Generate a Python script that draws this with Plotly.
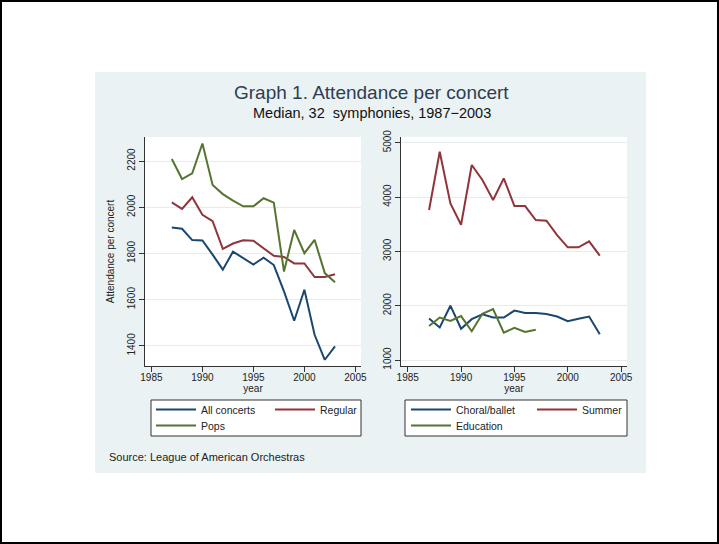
import plotly.graph_objects as go

# ---------------- data ----------------
years = list(range(1987, 2004))
all_concerts = [1912, 1907, 1858, 1856, 1795, 1730, 1808, 1780, 1752, 1782, 1750, 1636, 1509, 1643, 1448, 1340, 1398]
regular = [2021, 1993, 2043, 1967, 1940, 1820, 1843, 1857, 1855, 1822, 1790, 1785, 1757, 1757, 1698, 1698, 1710]
pops = [2209, 2122, 2147, 2276, 2096, 2057, 2029, 2004, 2004, 2039, 2020, 1722, 1902, 1801, 1859, 1715, 1675]

choral_ballet = [1764, 1600, 2000, 1576, 1752, 1842, 1782, 1782, 1909, 1867, 1867, 1848, 1800, 1715, 1758, 1800, 1473]
summer = [3761, 4834, 3884, 3490, 4589, 4313, 3945, 4344, 3834, 3834, 3576, 3564, 3300, 3075, 3075, 3185, 2920]
edu_years = list(range(1987, 1998))
education = [1627, 1782, 1721, 1809, 1530, 1850, 1939, 1503, 1594, 1515, 1558]

x_ticks = [1985, 1990, 1995, 2000, 2005]
y_ticks_left = [1400, 1600, 1800, 2000, 2200]
y_ticks_right = [1000, 2000, 3000, 4000, 5000]

NAVY = "#1A476F"
MAROON = "#90353B"
GREEN = "#55752F"
PANEL = "#EAF2F3"
GRID = "#E4ECEE"
FONT = "Liberation Sans, Arial, sans-serif"

W, H = 719, 544
ML, MR, MT, MB = 145, 92, 137, 178
PW = W - ML - MR
PH = H - MT - MB


def px(x):
    return (x - ML) / PW


def py(y):
    return (H - MB - y) / PH


fig = go.Figure()

line_w = 2
fig.add_trace(go.Scatter(x=years, y=all_concerts, mode="lines", name="All concerts",
                         line=dict(color=NAVY, width=line_w), xaxis="x", yaxis="y", legend="legend"))
fig.add_trace(go.Scatter(x=years, y=regular, mode="lines", name="Regular",
                         line=dict(color=MAROON, width=line_w), xaxis="x", yaxis="y", legend="legend"))
fig.add_trace(go.Scatter(x=years, y=pops, mode="lines", name="Pops",
                         line=dict(color=GREEN, width=line_w), xaxis="x", yaxis="y", legend="legend2"))

fig.add_trace(go.Scatter(x=years, y=choral_ballet, mode="lines", name="Choral/ballet",
                         line=dict(color=NAVY, width=line_w), xaxis="x2", yaxis="y2", legend="legend3"))
fig.add_trace(go.Scatter(x=years, y=summer, mode="lines", name="Summer",
                         line=dict(color=MAROON, width=line_w), xaxis="x2", yaxis="y2", legend="legend3"))
fig.add_trace(go.Scatter(x=edu_years, y=education, mode="lines", name="Education",
                         line=dict(color=GREEN, width=line_w), xaxis="x2", yaxis="y2", legend="legend4"))

left_dom = [0, (361 - ML) / PW]
right_dom = [(401 - ML) / PW, 1]

xcommon = dict(range=[1984.37, 2005.55], tickvals=x_ticks, showgrid=False, zeroline=False,
               showline=True, linecolor="#333", linewidth=1, ticks="outside", ticklen=5,
               tickcolor="#333", tickfont=dict(size=10, color="#222", family=FONT),
               ticklabelstandoff=-3,
               title=dict(text="year", font=dict(size=10, color="#222", family=FONT), standoff=0))
ycommon = dict(showgrid=True, gridcolor=GRID, gridwidth=1.3, zeroline=False,
               showline=True, linecolor="#333", linewidth=1, ticks="outside", ticklen=5,
               tickcolor="#333", tickangle=-90,
               tickfont=dict(size=10, color="#222", family=FONT))

fig.update_layout(
    width=W, height=H,
    margin=dict(l=ML, r=MR, t=MT, b=MB, pad=0),
    paper_bgcolor="white", plot_bgcolor="white",
    font=dict(family=FONT, color="#222"),
    xaxis=dict(domain=left_dom, anchor="y", **xcommon),
    yaxis=dict(domain=[0, 1], anchor="x", range=[1313, 2304], tickvals=y_ticks_left,
               title=dict(text="Attendance per concert", font=dict(size=10, color="#222", family=FONT),
                          standoff=9),
               **ycommon),
    xaxis2=dict(domain=right_dom, anchor="y2", **xcommon),
    yaxis2=dict(domain=[0, 1], anchor="x2", range=[890, 5105], tickvals=y_ticks_right, **ycommon),
    showlegend=True,
)

leg_common = dict(orientation="h", bgcolor="rgba(0,0,0,0)", borderwidth=0,
                  font=dict(size=10.5, color="#222", family=FONT), itemwidth=40,
                  xanchor="left", yanchor="top", itemclick=False, itemdoubleclick=False,
                  tracegroupgap=0)
fig.update_layout(
    legend=dict(x=px(151), y=py(395), entrywidth=64, **leg_common),
    legend2=dict(x=px(151), y=py(411), entrywidth=64, **leg_common),
    legend3=dict(x=px(406), y=py(395), entrywidth=71, **leg_common),
    legend4=dict(x=px(406), y=py(411), entrywidth=71, **leg_common),
)

shapes = [
    # outer frame
    dict(type="rect", xref="paper", yref="paper", x0=px(1), x1=px(718), y0=py(1), y1=py(543),
         line=dict(color="black", width=2), fillcolor="white", layer="below"),
    # graph region
    dict(type="rect", xref="paper", yref="paper", x0=px(95), x1=px(646), y0=py(72), y1=py(473),
         line=dict(width=0), fillcolor=PANEL, layer="below"),
    # plot regions
    dict(type="rect", xref="x domain", yref="y domain", x0=0, x1=1, y0=0, y1=1,
         line=dict(width=0), fillcolor="white", layer="below"),
    dict(type="rect", xref="x2 domain", yref="y2 domain", x0=0, x1=1, y0=0, y1=1,
         line=dict(width=0), fillcolor="white", layer="below"),
    # legend boxes
    dict(type="rect", xref="paper", yref="paper", x0=px(151), x1=px(361), y0=py(400), y1=py(436),
         line=dict(color="#333", width=1), fillcolor="white", layer="below"),
    dict(type="rect", xref="paper", yref="paper", x0=px(405), x1=px(627), y0=py(400), y1=py(436),
         line=dict(color="#333", width=1), fillcolor="white", layer="below"),
]
fig.update_layout(shapes=shapes)

annotations = [
    dict(text="Graph 1. Attendance per concert", xref="paper", yref="paper", x=px(371), y=py(92),
         xanchor="center", yanchor="middle", showarrow=False,
         font=dict(size=19, color="#2e3d52", family=FONT)),
    dict(text="Median, 32  symphonies, 1987\u22122003", xref="paper", yref="paper", x=px(372), y=py(113.5),
         xanchor="center", yanchor="middle", showarrow=False,
         font=dict(size=14.5, color="#111", family=FONT)),
    dict(text="Source: League of American Orchestras", xref="paper", yref="paper", x=px(107), y=py(456.6),
         xanchor="left", yanchor="middle", showarrow=False,
         font=dict(size=11, color="#222", family=FONT)),
]
fig.update_layout(annotations=annotations)

fig.write_html("out.html", config={"displayModeBar": False},
               post_script="document.body.style.margin='0px';document.body.style.overflow='hidden';")
